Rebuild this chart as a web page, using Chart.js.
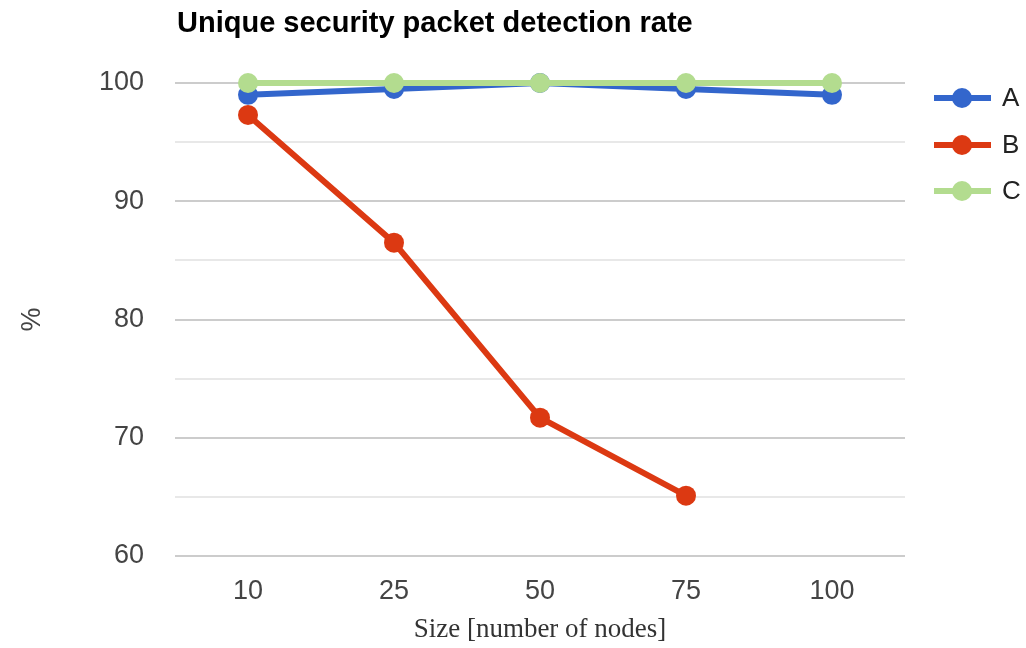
<!DOCTYPE html>
<html>
<head>
<meta charset="utf-8">
<script src="https://cdn.jsdelivr.net/npm/chart.js@4"></script>
<style>
  html, body { margin: 0; padding: 0; background: #ffffff; }
  #wrap { width: 1026px; height: 648px; }
</style>
</head>
<body>
<div id="wrap"><canvas id="c" width="1026" height="648"></canvas></div>
<script>
// Network size categories (x axis)
const sizes = ['10', '25', '50', '75', '100'];

// Detection rate (%) per series
const seriesA = [99.0, 99.5, 100.0, 99.5, 99.0];
const seriesB = [97.3, 86.5, 71.7, 65.1, null];
const seriesC = [100.0, 100.0, 100.0, 100.0, 100.0];

const seriesNames = ['A', 'B', 'C'];
const seriesColors = ['#3366cc', '#dc3912', '#b3dc8f'];

const chartTitle = 'Unique security packet detection rate';
const xTitle = 'Size [number of nodes]';
const yTitle = '%';

// Title and right-hand legend drawn on the canvas
const decorations = {
  id: 'decorations',
  afterDraw(chart) {
    const ctx = chart.ctx;
    ctx.save();
    ctx.fillStyle = '#000000';
    ctx.font = 'bold 29px "Liberation Sans", Arial, sans-serif';
    ctx.textAlign = 'left';
    ctx.textBaseline = 'alphabetic';
    ctx.fillText(chartTitle, 177, 32);

    const ys = [98, 145, 191];
    chart.data.datasets.forEach((ds, i) => {
      const y = ys[i];
      ctx.strokeStyle = ds.borderColor;
      ctx.lineWidth = 6;
      ctx.beginPath();
      ctx.moveTo(934, y);
      ctx.lineTo(991, y);
      ctx.stroke();
      ctx.fillStyle = ds.borderColor;
      ctx.beginPath();
      ctx.arc(962, y, 10, 0, Math.PI * 2);
      ctx.fill();
      ctx.fillStyle = '#222222';
      ctx.font = '26px "Liberation Sans", Arial, sans-serif';
      ctx.textBaseline = 'middle';
      ctx.fillText(ds.label, 1002, y + 1);
    });
    ctx.restore();
  }
};

const makeSet = (i, data, order) => ({
  label: seriesNames[i],
  data: data,
  borderColor: seriesColors[i],
  backgroundColor: seriesColors[i],
  borderWidth: 6,
  pointRadius: 10,
  pointHoverRadius: 10,
  pointBorderWidth: 0,
  tension: 0,
  clip: false,
  order: order
});

new Chart(document.getElementById('c'), {
  type: 'line',
  data: {
    labels: sizes,
    datasets: [
      makeSet(0, seriesA, 3),
      makeSet(1, seriesB, 2),
      makeSet(2, seriesC, 1)
    ]
  },
  options: {
    responsive: false,
    animation: false,
    events: [],
    layout: { padding: { top: 83, right: 121, bottom: 0, left: 0 } },
    plugins: {
      legend: { display: false },
      tooltip: { enabled: false },
      title: { display: false }
    },
    scales: {
      x: {
        offset: true,
        grid: { display: false, drawTicks: false },
        border: { display: false },
        ticks: {
          color: '#444444',
          padding: 19,
          font: { family: '"Liberation Sans", Arial, sans-serif', size: 27 }
        },
        title: {
          display: true,
          text: xTitle,
          color: '#333333',
          padding: { top: 0, bottom: 2 },
          font: { family: '"Liberation Serif", "DejaVu Serif", serif', size: 27 }
        },
        afterFit(scale) { scale.height = 92; }
      },
      y: {
        min: 60,
        max: 100,
        ticks: {
          stepSize: 5,
          color: '#444444',
          padding: 31,
          font: { family: '"Liberation Sans", Arial, sans-serif', size: 27 },
          callback: (v) => (v % 10 === 0 ? String(v) : '')
        },
        grid: {
          drawTicks: false,
          lineWidth: 2,
          color: (c) => (c.tick && c.tick.value % 10 === 0 ? '#cccccc' : '#e8e8e8')
        },
        border: { display: false },
        title: {
          display: true,
          text: yTitle,
          color: '#444444',
          padding: { top: 16, bottom: 0 },
          font: { family: '"Liberation Sans", Arial, sans-serif', size: 27 }
        },
        afterFit(scale) { scale.width = 175; }
      }
    }
  },
  plugins: [decorations]
});
</script>
</body>
</html>
